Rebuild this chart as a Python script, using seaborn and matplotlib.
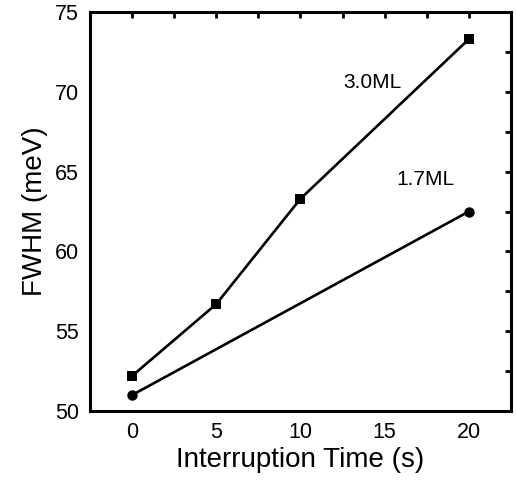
import pandas as pd
import matplotlib
matplotlib.use("Agg")
import matplotlib.pyplot as plt
import seaborn as sns

# data
time_30 = [0, 5, 10, 20]
fwhm_30 = [52.2, 56.7, 63.3, 73.3]
time_17 = [0, 20]
fwhm_17 = [51.0, 62.5]

df = pd.concat([
    pd.DataFrame({"time": time_30, "fwhm": fwhm_30, "sample": "3.0ML"}),
    pd.DataFrame({"time": time_17, "fwhm": fwhm_17, "sample": "1.7ML"}),
])

sns.set_style("white")
plt.rcParams["font.family"] = ["Liberation Sans", "DejaVu Sans"]
plt.rcParams["text.color"] = "black"
plt.rcParams["axes.labelcolor"] = "black"
plt.rcParams["xtick.color"] = "black"
plt.rcParams["ytick.color"] = "black"

fig = plt.figure(figsize=(5.16, 4.84), dpi=100)
ax = fig.add_axes([0.1744, 0.1508, 0.8156, 0.8242])

sns.lineplot(data=df, x="time", y="fwhm", hue="sample", style="sample",
             markers={"3.0ML": "s", "1.7ML": "o"}, dashes=False,
             palette={"3.0ML": "black", "1.7ML": "black"},
             markersize=7.5, linewidth=1.9, markeredgewidth=0, legend=False, ax=ax)

ax.set_xlim(-2.5, 22.5)
ax.set_ylim(50, 75)
ax.set_xticks([0, 5, 10, 15, 20])
ax.set_xticks([2.5, 7.5, 12.5, 17.5], minor=True)
ax.set_yticks([50, 55, 60, 65, 70, 75])
ax.set_yticks([52.5, 57.5, 62.5, 67.5, 72.5], minor=True)

for s in ax.spines.values():
    s.set_linewidth(2.2)
    s.set_color("black")

ax.tick_params(which="major", direction="out", length=5, width=2, labelsize=15.5, pad=3)
ax.tick_params(which="minor", direction="out", length=3, width=2)

# inward ticks on top and right
top = ax.secondary_xaxis("top")
top.set_xticks([0, 5, 10, 15, 20])
top.set_xticks([2.5, 7.5, 12.5, 17.5], minor=True)
top.tick_params(which="both", direction="in", length=4, width=2, labeltop=False)
right = ax.secondary_yaxis("right")
right.set_yticks([50, 55, 60, 65, 70, 75])
right.set_yticks([52.5, 57.5, 62.5, 67.5, 72.5], minor=True)
right.tick_params(which="both", direction="in", length=4, width=2, labelright=False)

ax.set_xlabel("Interruption Time (s)", fontsize=20, labelpad=3)
ax.set_ylabel("FWHM (meV)", fontsize=20, labelpad=5)

ax.text(14.3, 70.6, "3.0ML", fontsize=15, ha="center", va="center")
ax.text(17.4, 64.5, "1.7ML", fontsize=15, ha="center", va="center")

fig.savefig("out.png", dpi=100)
